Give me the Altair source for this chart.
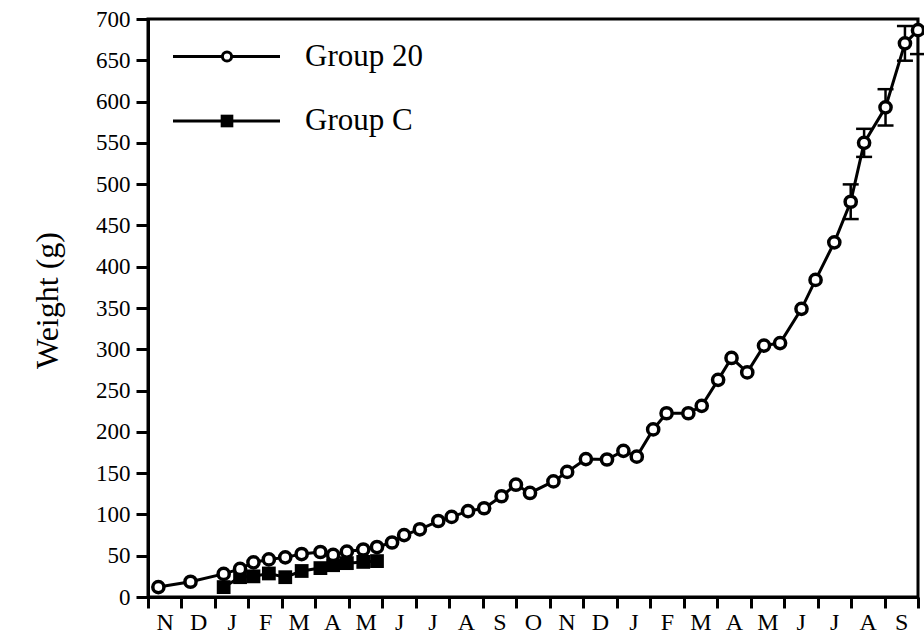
import altair as alt
import pandas as pd

# Month initials along the time axis (one per month, Nov through the Sep almost two years later)
MONTH_LABELS = ["N", "D", "J", "F", "M", "A", "M", "J", "J", "A", "S", "O",
                "N", "D", "J", "F", "M", "A", "M", "J", "J", "A", "S"]

# Group 20: time (months since start of Nov) and mean body weight (g)
G20_MONTH = [0.31, 1.27, 2.26, 2.75, 3.15, 3.61, 4.10, 4.59, 5.15, 5.53,
             5.94, 6.43, 6.84, 7.29, 7.65, 8.12, 8.67, 9.07, 9.56, 10.04,
             10.56, 10.99, 11.41, 12.11, 12.52, 13.08, 13.71, 14.20, 14.60, 15.09,
             15.49, 16.14, 16.54, 17.03, 17.43, 17.90, 18.40, 18.88, 19.52, 19.94,
             20.50, 20.99, 21.39, 22.03, 22.61, 23.00]
G20_WEIGHT = [12, 18.5, 28, 34, 42, 45.5, 48, 52, 54.5, 51,
              55, 57.5, 60.5, 66, 75, 82, 92, 97, 104, 107.5,
              122, 136, 126, 140, 151.5, 167, 166.5, 177, 170, 203,
              222.5, 222.5, 231.5, 263, 289.5, 272, 304.5, 307.5, 349, 384,
              429.5, 478.7, 550, 593, 670.5, 686.5]
# Error (g) where the bar extends beyond the marker
G20_ERR = [None] * 41 + [21, 17, 22, 21, 29]

# Group C: time and mean body weight (g)
GC_MONTH = [2.26, 2.75, 3.15, 3.61, 4.10, 4.59, 5.15, 5.53, 5.94, 6.43, 6.84]
GC_WEIGHT = [12, 24, 25, 28.5, 24, 31.5, 35, 38.5, 41, 42.5, 43.5]

Y_TICKS = list(range(0, 701, 50))
X_TICKS = list(range(0, len(MONTH_LABELS) + 1))

g20 = pd.DataFrame({"month": G20_MONTH, "weight": G20_WEIGHT, "err": G20_ERR})
gc = pd.DataFrame({"month": GC_MONTH, "weight": GC_WEIGHT})
bars = g20.dropna(subset=["err"]).copy()
bars["lo"] = bars["weight"] - bars["err"]
bars["hi"] = bars["weight"] + bars["err"]

SERIF = "Liberation Serif"
label_js = "[" + ",".join("'%s'" % m for m in MONTH_LABELS) + "]"

x_scale = alt.Scale(domain=[0, len(MONTH_LABELS)], nice=False, zero=False)
y_scale = alt.Scale(domain=[0, 700], nice=False)

x_axis = alt.Axis(
    values=X_TICKS,
    labelExpr=f"datum.value < {len(MONTH_LABELS)} ? {label_js}[datum.value] : ''",
    labelOffset=16.7,
    labelFlush=False,
    labelOverlap=False,
    labelPadding=2,
    labelFontSize=24,
    tickSize=11,
    title=None,
)
y_axis = alt.Axis(
    values=Y_TICKS,
    tickSize=12,
    labelPadding=6,
    labelFontSize=23,
    title="Weight (g)",
    titleFont=SERIF,
    titleFontSize=32,
    titleFontWeight="normal",
    titleColor="black",
    titleX=-101,
    titleY=281,
    titleAlign="center",
    titleBaseline="middle",
    titleAngle=270,
)


def xe():
    return alt.X("month:Q", scale=x_scale, axis=x_axis)


def ye(field):
    return alt.Y(f"{field}:Q", scale=y_scale, axis=y_axis)


base_c = alt.Chart(gc)
base_20 = alt.Chart(g20)

line_c = base_c.mark_line(color="black", strokeWidth=3).encode(x=xe(), y=ye("weight"))
pts_c = base_c.mark_square(size=190, color="black", opacity=1).encode(x=xe(), y=ye("weight"))

line_20 = base_20.mark_line(color="black", strokeWidth=3).encode(x=xe(), y=ye("weight"))

err_rule = alt.Chart(bars).mark_rule(color="black", strokeWidth=2.5, clip=True).encode(
    x=xe(), y=ye("lo"), y2="hi:Q"
)
cap_hi = alt.Chart(bars).mark_tick(orient="horizontal", size=16, thickness=2.5,
                                   color="black", opacity=1, clip=True).encode(
    x=xe(), y=ye("hi")
)
cap_lo = alt.Chart(bars).mark_tick(orient="horizontal", size=16, thickness=2.5,
                                   color="black", opacity=1).encode(
    x=xe(), y=ye("lo")
)

pts_20 = base_20.mark_point(shape="circle", filled=True, fill="white", stroke="black",
                            strokeWidth=3.5, size=125, opacity=1).encode(
    x=xe(), y=ye("weight")
)

# Legend, drawn in the top-left corner of the plot area
key = pd.DataFrame({"k": [0]})
LEG_X0, LEG_X1, LEG_MARK, LEG_TEXT = 25, 132, 79, 157
LEG_ROWS = [37.5, 102]
leg_layers = []
for row_y, label, kind in zip(LEG_ROWS, ["Group 20", "Group C"], ["circle", "square"]):
    leg_layers.append(alt.Chart(key).mark_rule(color="black", strokeWidth=3).encode(
        x=alt.value(LEG_X0), x2=alt.value(LEG_X1), y=alt.value(row_y)))
    if kind == "circle":
        leg_layers.append(alt.Chart(key).mark_point(shape="circle", filled=True, fill="white",
                                                    stroke="black", strokeWidth=3,
                                                    size=85, opacity=1).encode(
            x=alt.value(LEG_MARK), y=alt.value(row_y)))
    else:
        leg_layers.append(alt.Chart(key).mark_square(size=160, color="black", opacity=1).encode(
            x=alt.value(LEG_MARK), y=alt.value(row_y)))
    leg_layers.append(alt.Chart(key).mark_text(text=label, font=SERIF, fontSize=31,
                                               align="left", baseline="middle",
                                               color="black").encode(
        x=alt.value(LEG_TEXT), y=alt.value(row_y)))

chart = alt.layer(
    line_c, pts_c, line_20, err_rule, cap_hi, cap_lo, pts_20, *leg_layers
).properties(
    width=770,
    height=578,
    autosize=alt.AutoSizeParams(type="none"),
    padding={"left": 148, "top": 19, "right": 6, "bottom": 41},
).configure_axis(
    domainColor="black",
    domainWidth=3,
    tickColor="black",
    tickWidth=3,
    labelFont=SERIF,
    labelColor="black",
    grid=False,
).configure_view(
    stroke="black",
    strokeWidth=3,
)

chart.save("out.html", embed_options={"renderer": "svg", "actions": False})
